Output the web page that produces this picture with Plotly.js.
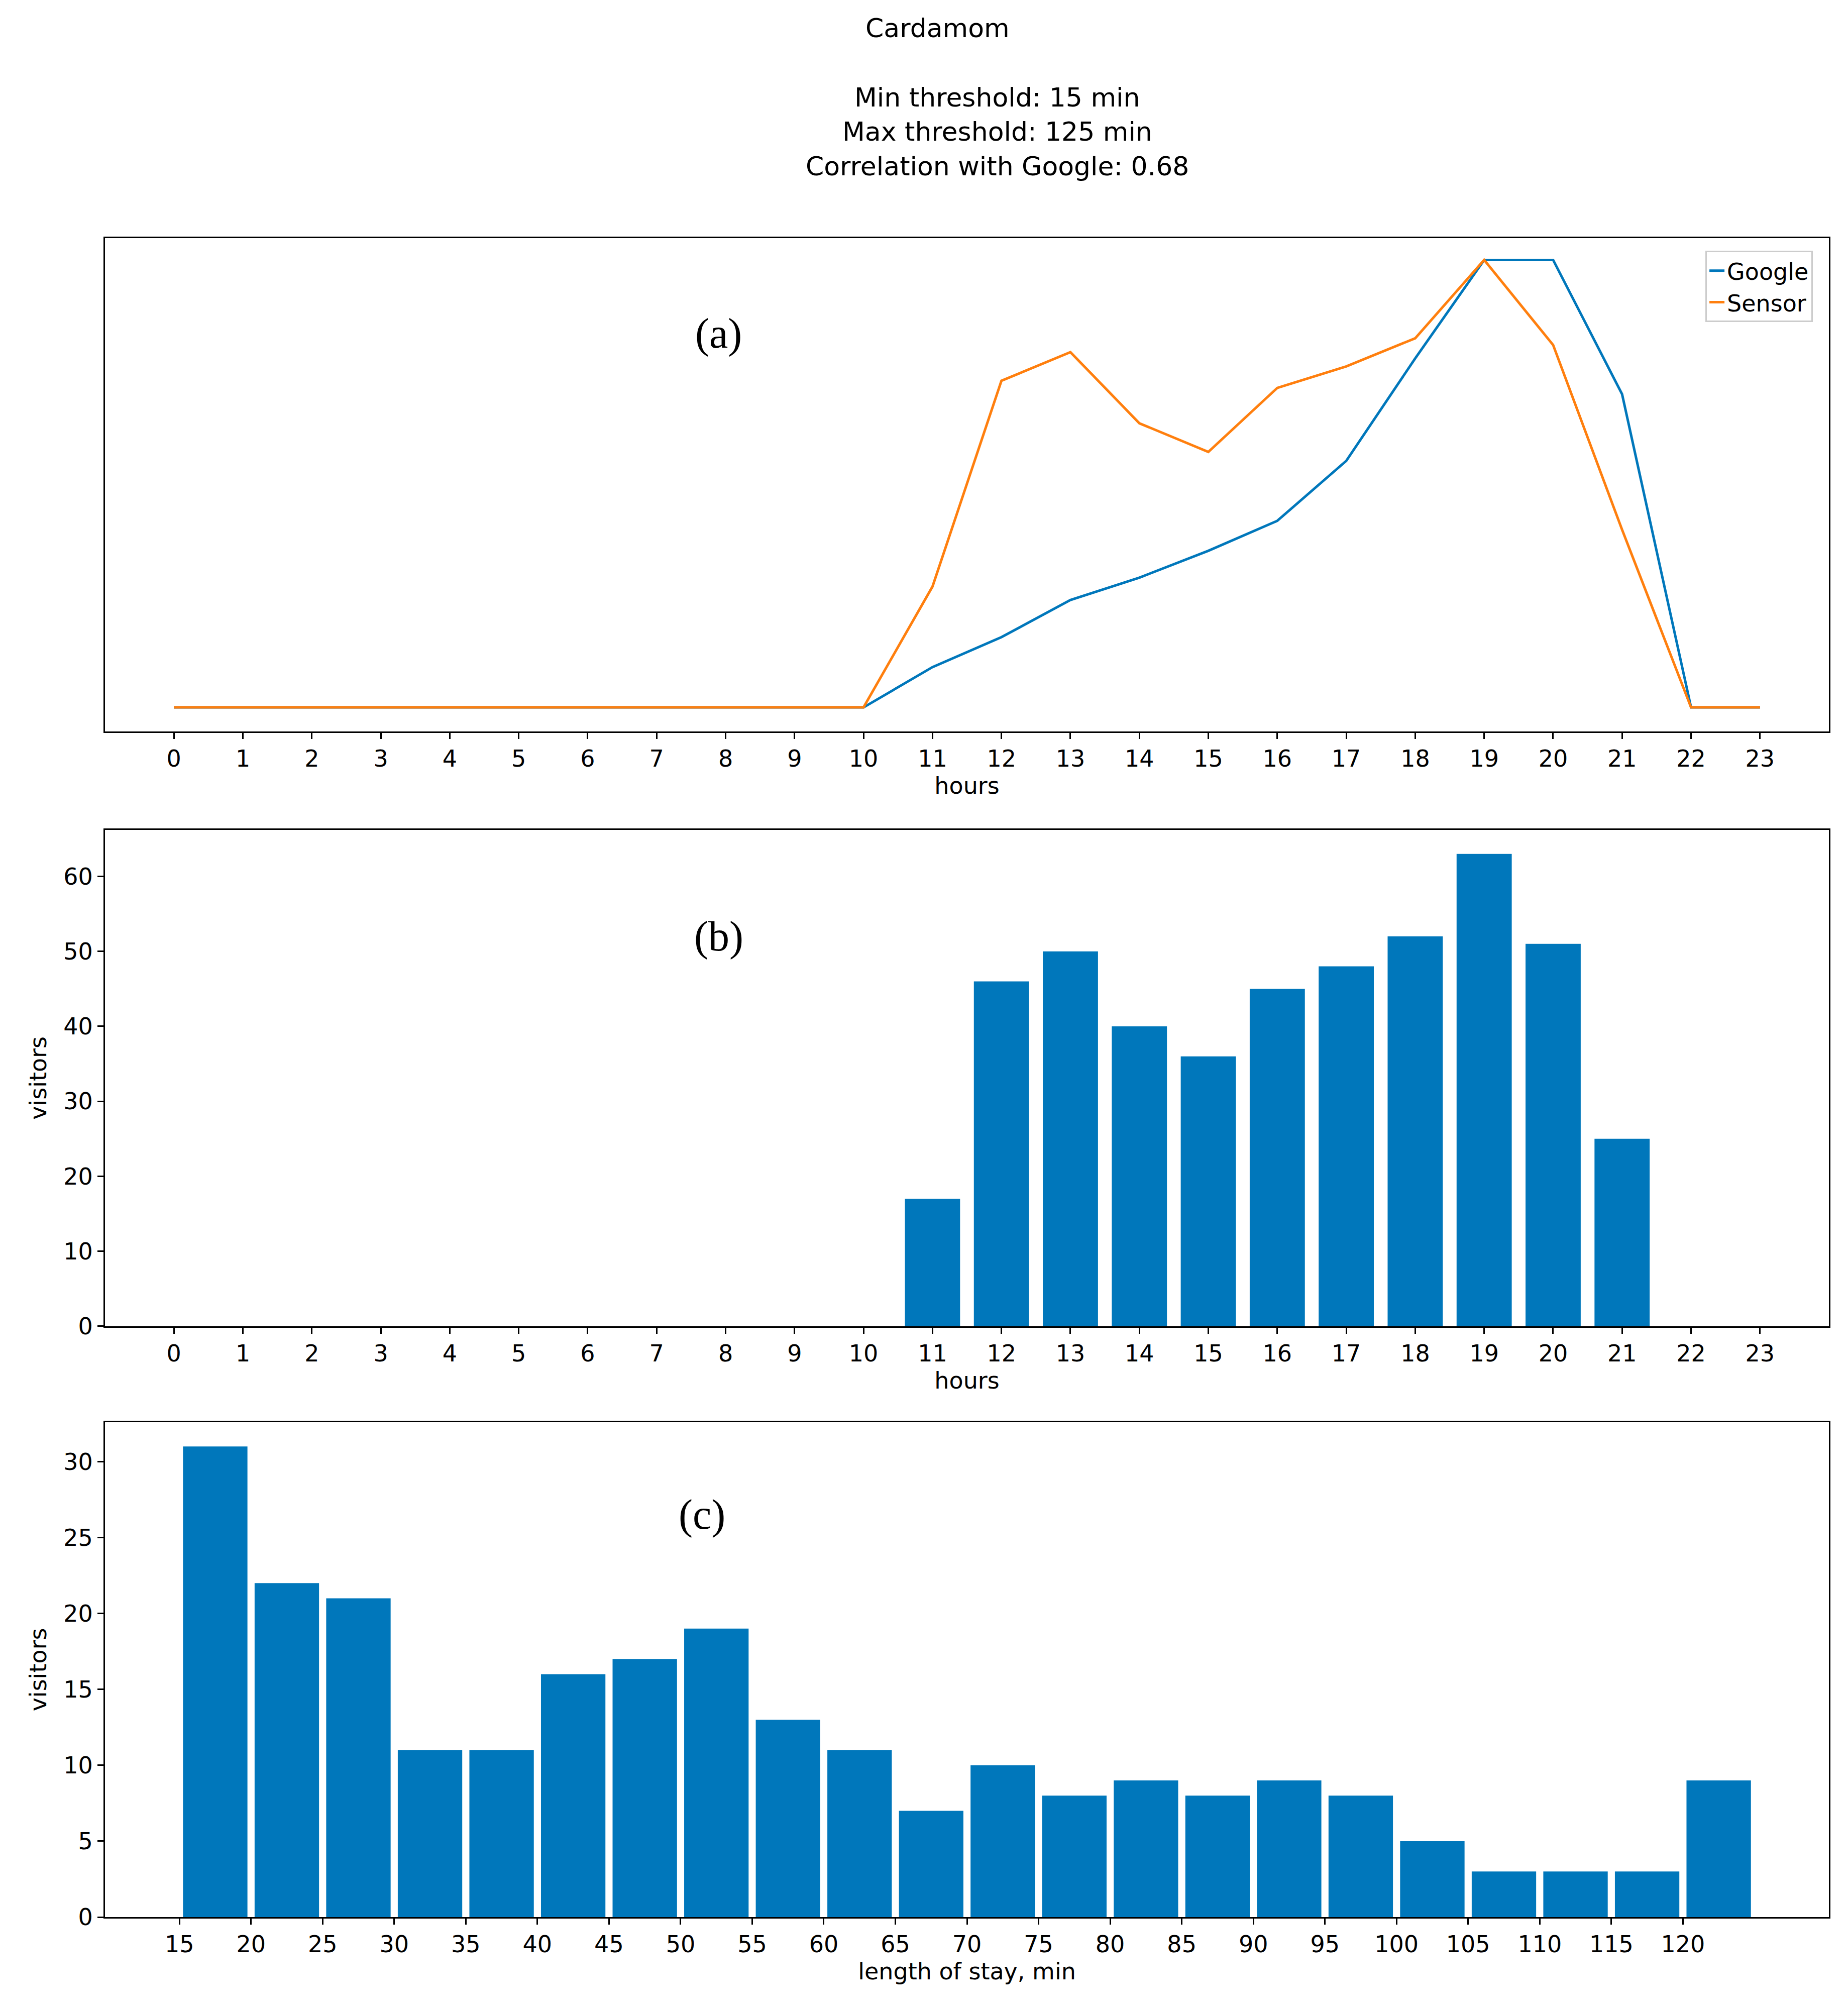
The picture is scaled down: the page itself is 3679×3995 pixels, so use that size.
<!DOCTYPE html>
<html>
<head>
<meta charset="utf-8">
<script src="https://cdn.plot.ly/plotly-3.0.1.min.js"></script>
<style>html,body{margin:0;padding:0;background:#fff;}</style>
</head>
<body>
<div id="chart" style="width:3679px;height:3995px;"></div>
<script>
var hours = [0,1,2,3,4,5,6,7,8,9,10,11,12,13,14,15,16,17,18,19,20,21,22,23];
var google = [0,0,0,0,0,0,0,0,0,0,0,0.09,0.157,0.24,0.29,0.35,0.417,0.551,0.78,1,1,0.7,0,0];
var sensor = [0,0,0,0,0,0,0,0,0,0,0,0.27,0.73,0.794,0.635,0.571,0.714,0.762,0.825,1,0.81,0.397,0,0];
var visitorsByHour = [0,0,0,0,0,0,0,0,0,0,0,17,46,50,40,36,45,48,52,63,51,25,0,0];
var stayBins = [17.5,22.5,27.5,32.5,37.5,42.5,47.5,52.5,57.5,62.5,67.5,72.5,77.5,82.5,87.5,92.5,97.5,102.5,107.5,112.5,117.5,122.5];
var stayCounts = [31,22,21,11,11,16,17,19,13,11,7,10,8,9,8,9,8,5,3,3,3,9];
var stayTicks = [15,20,25,30,35,40,45,50,55,60,65,70,75,80,85,90,95,100,105,110,115,120];

var blue = '#0077bb', orange = '#ff7f0e';
var tickFont = {family: 'DejaVu Sans', size: 46, color: '#000'};
var xdom = [0.0568, 0.9897];

function axis(extra) {
  var a = {domain: xdom, showline: true, mirror: true, linecolor: '#000', linewidth: 3,
    ticks: 'outside', ticklen: 12, tickwidth: 3, tickcolor: '#000', tickfont: tickFont,
    showgrid: false, zeroline: false, fixedrange: true};
  for (var k in extra) a[k] = extra[k];
  return a;
}

var data = [
  {x: hours, y: google, type: 'scatter', mode: 'lines', name: 'Google', line: {color: blue, width: 5}, xaxis: 'x', yaxis: 'y'},
  {x: hours, y: sensor, type: 'scatter', mode: 'lines', name: 'Sensor', line: {color: orange, width: 5}, xaxis: 'x', yaxis: 'y'},
  {x: hours, y: visitorsByHour, type: 'bar', width: 0.8, marker: {color: blue}, showlegend: false, xaxis: 'x2', yaxis: 'y2'},
  {x: stayBins, y: stayCounts, type: 'bar', width: 4.5, marker: {color: blue}, showlegend: false, xaxis: 'x3', yaxis: 'y3'}
];

var titleFont = {family: 'DejaVu Sans', size: 52, color: '#000'};
var panelFont = {family: 'Liberation Serif', size: 84, color: '#000'};

var layout = {
  width: 3679, height: 3995,
  margin: {l: 0, r: 0, t: 0, b: 0},
  paper_bgcolor: '#fff', plot_bgcolor: '#fff',
  showlegend: true,
  legend: {x: 0.981, xanchor: 'right', y: 0.875, yanchor: 'top', font: tickFont,
    bordercolor: '#ccc', borderwidth: 3, bgcolor: '#fff'},
  xaxis: axis({range: [-1, 24], tickvals: hours, anchor: 'y',
    title: {text: 'hours', font: tickFont, standoff: 10}}),
  yaxis: axis({domain: [0.6355, 0.8814], range: [-0.054, 1.049], showticklabels: false, ticks: '', anchor: 'x'}),
  xaxis2: axis({range: [-1, 24], tickvals: hours, anchor: 'y2',
    title: {text: 'hours', font: tickFont, standoff: 10}}),
  yaxis2: axis({domain: [0.3392, 0.5865], range: [0, 66.2], tickvals: [0,10,20,30,40,50,60], anchor: 'x2',
    title: {text: 'visitors', font: tickFont, standoff: 20}}),
  xaxis3: axis({range: [9.8, 130.2], tickvals: stayTicks, anchor: 'y3',
    title: {text: 'length of stay, min', font: tickFont, standoff: 10}}),
  yaxis3: axis({domain: [0.0448, 0.2914], range: [0, 32.6], tickvals: [0,5,10,15,20,25,30], anchor: 'x3',
    title: {text: 'visitors', font: tickFont, standoff: 20}}),
  annotations: [
    {text: 'Cardamom', xref: 'paper', yref: 'paper', x: 733*2.546/3679, y: 1 - 56/3995, showarrow: false, font: titleFont, yanchor: 'middle'},
    {text: 'Min threshold: 15 min', xref: 'paper', yref: 'paper', x: 780*2.546/3679, y: 1 - 194/3995, showarrow: false, font: titleFont, yanchor: 'middle'},
    {text: 'Max threshold: 125 min', xref: 'paper', yref: 'paper', x: 780*2.546/3679, y: 1 - 262/3995, showarrow: false, font: titleFont, yanchor: 'middle'},
    {text: 'Correlation with Google: 0.68', xref: 'paper', yref: 'paper', x: 780*2.546/3679, y: 1 - 331/3995, showarrow: false, font: titleFont, yanchor: 'middle'},
    {text: '(a)', xref: 'x', yref: 'y', x: 7.9, y: 0.835, showarrow: false, font: panelFont},
    {text: '(b)', xref: 'x2', yref: 'y2', x: 7.9, y: 52, showarrow: false, font: panelFont},
    {text: '(c)', xref: 'x3', yref: 'y3', x: 51.5, y: 26.5, showarrow: false, font: panelFont}
  ]
};

Plotly.newPlot('chart', data, layout, {displayModeBar: false, staticPlot: true});
</script>
</body>
</html>
